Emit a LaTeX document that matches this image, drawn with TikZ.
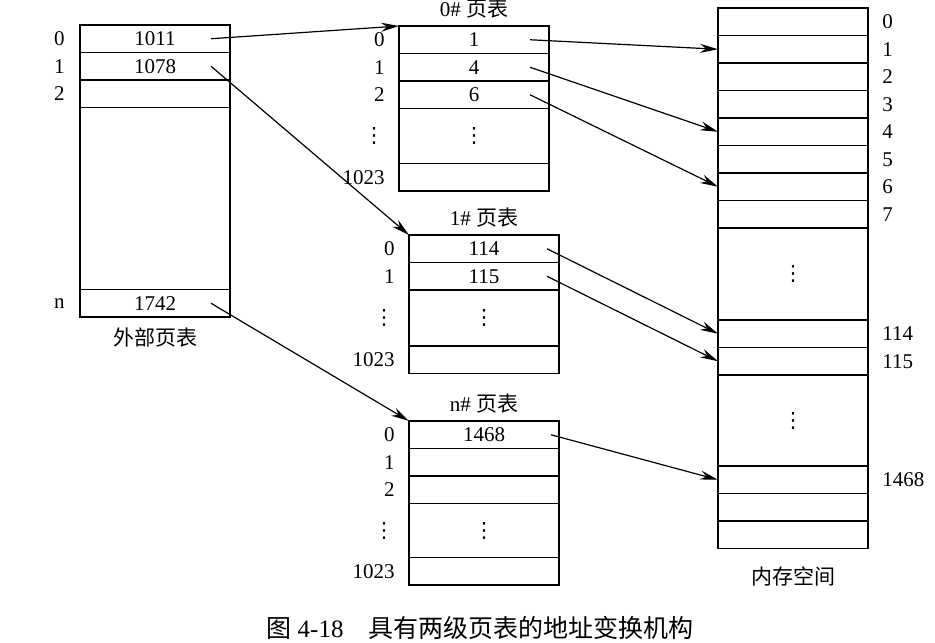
\documentclass[tikz,border=0pt]{standalone}
\usepackage{fontspec}
\setmainfont{Liberation Serif}
\newfontfamily\cjk{Noto Sans CJK SC}
\newfontfamily\dotsfont{DejaVu Sans}
\newcommand{\vdot}{{\dotsfont ⋮}}
\usepackage{tikz}
\usetikzlibrary{positioning}
\usetikzlibrary{arrows.meta}
\tikzset{
    cellbox/.style={
        draw,
        line width=0.8pt,
        minimum width=75pt,
        minimum height=13.75pt,
        inner sep=0pt,
        outer sep=0pt
    },
    % taller row holding the dots
    gapbox/.style={cellbox, minimum height=#1},
    idx/.style={anchor=east, inner sep=0pt},
    memidx/.style={anchor=west, inner sep=0pt},
    linkarrow/.style={
        line width=0.6pt,
        black,
        -{Stealth[length=9pt, width=4.5pt, inset=3pt]}
    }
}

\begin{document}
\begin{tikzpicture}[x=0.5pt, y=-0.5pt, font=\fontsize{10.5}{12.6}\selectfont]
        \useasboundingbox (0,0) rectangle (935,642);

        % outer page table
        \node[cellbox, anchor=north west] (o0) at (80,25) {1011};
        \node[cellbox, below=0pt of o0] (o1) {1078};
        \node[cellbox, below=0pt of o1] (o2) {};
        \node[gapbox=91pt, below=0pt of o2] (og) {};
        \node[cellbox, below=0pt of og] (on) {1742};
        \node[idx] (lo0) at ([xshift=-7.5pt]o0.west) {0};
        \node[idx] (lo1) at ([xshift=-7.5pt]o1.west) {1};
        \node[idx] (lo2) at ([xshift=-7.5pt]o2.west) {2};
        \node[idx] (lon) at ([xshift=-7.5pt]on.west) {n};
        \node[inner sep=0pt, below=5pt of on] (otitle) {\cjk 外部页表};

        % 0# page table
        \node[cellbox, anchor=north west] (a0) at (399,26) {1};
        \node[cellbox, below=0pt of a0] (a1) {4};
        \node[cellbox, below=0pt of a1] (a2) {6};
        \node[gapbox=27.5pt, below=0pt of a2] (ag) {\vdot};
        \node[cellbox, below=0pt of ag] (a3) {};
        \node[idx] (la0) at ([xshift=-7pt]a0.west) {0};
        \node[idx] (la1) at ([xshift=-7pt]a1.west) {1};
        \node[idx] (la2) at ([xshift=-7pt]a2.west) {2};
        \node[idx] (lag) at ([xshift=-7pt]ag.west) {\vdot};
        \node[idx] (la3) at ([xshift=-7pt]a3.west) {1023};
        \node (atitle) at ([yshift=8.5pt]a0.north) {0\# {\cjk 页表}};

        % 1# page table
        \node[cellbox, anchor=north west] (b0) at (409,235) {114};
        \node[cellbox, below=0pt of b0] (b1) {115};
        \node[gapbox=28pt, below=0pt of b1] (bg) {\vdot};
        \node[cellbox, below=0pt of bg] (b3) {};
        \node[idx] (lb0) at ([xshift=-7pt]b0.west) {0};
        \node[idx] (lb1) at ([xshift=-7pt]b1.west) {1};
        \node[idx] (lbg) at ([xshift=-7pt]bg.west) {\vdot};
        \node[idx] (lb3) at ([xshift=-7pt]b3.west) {1023};
        \node (btitle) at ([yshift=8.5pt]b0.north) {1\# {\cjk 页表}};

        % n# page table
        \node[cellbox, anchor=north west] (c0) at (409,421) {1468};
        \node[cellbox, below=0pt of c0] (c1) {};
        \node[cellbox, below=0pt of c1] (c2) {};
        \node[gapbox=27pt, below=0pt of c2] (cg) {\vdot};
        \node[cellbox, below=0pt of cg] (c3) {};
        \node[idx] (lc0) at ([xshift=-7pt]c0.west) {0};
        \node[idx] (lc1) at ([xshift=-7pt]c1.west) {1};
        \node[idx] (lc2) at ([xshift=-7pt]c2.west) {2};
        \node[idx] (lcg) at ([xshift=-7pt]cg.west) {\vdot};
        \node[idx] (lc3) at ([xshift=-7pt]c3.west) {1023};
        \node (ctitle) at ([yshift=8.5pt]c0.north) {n\# {\cjk 页表}};

        % memory
        \node[cellbox, anchor=north west] (m0) at (718,8) {};
        \node[cellbox, below=0pt of m0] (m1) {};
        \node[cellbox, below=0pt of m1] (m2) {};
        \node[cellbox, below=0pt of m2] (m3) {};
        \node[cellbox, below=0pt of m3] (m4) {};
        \node[cellbox, below=0pt of m4] (m5) {};
        \node[cellbox, below=0pt of m5] (m6) {};
        \node[cellbox, below=0pt of m6] (m7) {};
        \node[gapbox=46pt, below=0pt of m7] (mg1) {\vdot};
        \node[cellbox, below=0pt of mg1] (m114) {};
        \node[cellbox, below=0pt of m114] (m115) {};
        \node[gapbox=45.5pt, below=0pt of m115] (mg2) {\vdot};
        \node[cellbox, below=0pt of mg2] (m1468) {};
        \node[cellbox, below=0pt of m1468] (mx1) {};
        \node[cellbox, below=0pt of mx1] (mx2) {};
        \node[memidx] (lm0) at ([xshift=7pt]m0.east) {0};
        \node[memidx] (lm1) at ([xshift=7pt]m1.east) {1};
        \node[memidx] (lm2) at ([xshift=7pt]m2.east) {2};
        \node[memidx] (lm3) at ([xshift=7pt]m3.east) {3};
        \node[memidx] (lm4) at ([xshift=7pt]m4.east) {4};
        \node[memidx] (lm5) at ([xshift=7pt]m5.east) {5};
        \node[memidx] (lm6) at ([xshift=7pt]m6.east) {6};
        \node[memidx] (lm7) at ([xshift=7pt]m7.east) {7};
        \node[memidx] (lm114) at ([xshift=7pt]m114.east) {114};
        \node[memidx] (lm115) at ([xshift=7pt]m115.east) {115};
        \node[memidx] (lm1468) at ([xshift=7pt]m1468.east) {1468};
        \node[inner sep=0pt, below=9pt of mx2] (mtitle) {\cjk 内存空间};

        % start points of the links
        \coordinate (so0) at ([xshift=-9.5pt]o0.east);
        \coordinate (so1) at ([xshift=-9.5pt]o1.east);
        \coordinate (son) at ([xshift=-9.5pt]on.east);
        \coordinate (sa0) at ([xshift=-9.5pt]a0.east);
        \coordinate (sa1) at ([xshift=-9.5pt]a1.east);
        \coordinate (sa2) at ([xshift=-9.5pt]a2.east);
        \coordinate (sb0) at ([xshift=-6pt]b0.east);
        \coordinate (sb1) at ([xshift=-6pt]b1.east);
        \coordinate (sc0) at ([xshift=-4pt]c0.east);

        \draw[linkarrow] (so0) to (a0.north west);
        \draw[linkarrow] (so1) to (b0.north west);
        \draw[linkarrow] (son) to (c0.north west);
        \draw[linkarrow] (sa0) to (m1.west);
        \draw[linkarrow] (sa1) to (m4.west);
        \draw[linkarrow] (sa2) to (m6.west);
        \draw[linkarrow] (sb0) to (m114.west);
        \draw[linkarrow] (sb1) to (m115.west);
        \draw[linkarrow] (sc0) to (m1468.west);

        \node[font=\fontsize{12.5}{15}\selectfont] (caption) at (480,628) {{\cjk 图} 4-18\quad{\cjk 具有两级页表的地址变换机构}};
\end{tikzpicture}
\end{document}
